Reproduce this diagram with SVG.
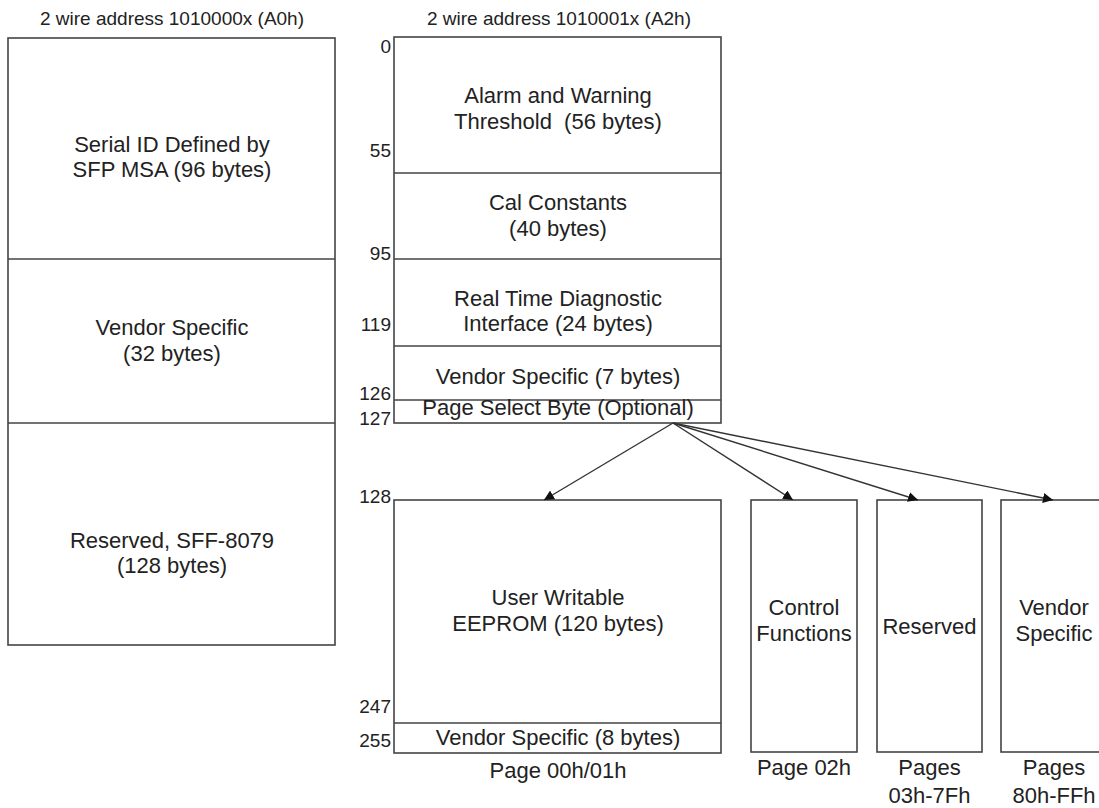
<svg xmlns="http://www.w3.org/2000/svg" width="1099" height="808" viewBox="0 0 1099 808">
<style>
.box{fill:#fff;stroke:#444;stroke-width:1.6}
.ln{stroke:#444;stroke-width:1.6;fill:none}
.t{font-family:"Liberation Sans",Arial,sans-serif;font-size:22px;fill:#222;text-anchor:middle}
.h{font-family:"Liberation Sans",Arial,sans-serif;font-size:19px;fill:#222;text-anchor:middle}
.n{font-family:"Liberation Sans",Arial,sans-serif;font-size:19px;fill:#222;text-anchor:end}
.arr{stroke:#333;stroke-width:1.4;fill:none;marker-end:url(#ah)}
</style>
<defs>
<marker id="ah" viewBox="0 0 10 10" refX="10" refY="5" markerWidth="10" markerHeight="10" markerUnits="userSpaceOnUse" orient="auto">
<path d="M0,0 L10,5 L0,10 z" fill="#111"/>
</marker>
</defs>
<rect width="1099" height="808" fill="#fff"/>

<g id="a0h">
<text class="h" x="172" y="25">2 wire address 1010000x (A0h)</text>
<rect class="box" x="8" y="38" width="327" height="607"/>
<line class="ln" x1="8" y1="259" x2="335" y2="259"/>
<line class="ln" x1="8" y1="423" x2="335" y2="423"/>
<text class="t" x="172" y="152">Serial ID Defined by</text>
<text class="t" x="172" y="177">SFP MSA (96 bytes)</text>
<text class="t" x="172" y="335">Vendor Specific</text>
<text class="t" x="172" y="361">(32 bytes)</text>
<text class="t" x="172" y="548">Reserved, SFF-8079</text>
<text class="t" x="172" y="573">(128 bytes)</text>
</g>

<g id="a2h">
<text class="h" x="559" y="25">2 wire address 1010001x (A2h)</text>
<rect class="box" x="394" y="37" width="327" height="386"/>
<line class="ln" x1="394" y1="173" x2="721" y2="173"/>
<line class="ln" x1="394" y1="259" x2="721" y2="259"/>
<line class="ln" x1="394" y1="346" x2="721" y2="346"/>
<line class="ln" x1="394" y1="400" x2="721" y2="400"/>
<text class="t" x="558" y="103">Alarm and Warning</text>
<text class="t" x="558" y="129" xml:space="preserve">Threshold  (56 bytes)</text>
<text class="t" x="558" y="210">Cal Constants</text>
<text class="t" x="558" y="236">(40 bytes)</text>
<text class="t" x="558" y="306">Real Time Diagnostic</text>
<text class="t" x="558" y="331">Interface (24 bytes)</text>
<text class="t" x="558" y="384">Vendor Specific (7 bytes)</text>
<text class="t" x="558" y="415">Page Select Byte (Optional)</text>
<text class="n" x="391" y="53">0</text>
<text class="n" x="391" y="157">55</text>
<text class="n" x="391" y="260">95</text>
<text class="n" x="391" y="331">119</text>
<text class="n" x="391" y="400">126</text>
<text class="n" x="391" y="425">127</text>
</g>

<g id="page00">
<rect class="box" x="394" y="500" width="327" height="253"/>
<line class="ln" x1="394" y1="723" x2="721" y2="723"/>
<text class="t" x="558" y="605">User Writable</text>
<text class="t" x="558" y="631">EEPROM (120 bytes)</text>
<text class="t" x="558" y="745">Vendor Specific (8 bytes)</text>
<text class="n" x="391" y="503">128</text>
<text class="n" x="391" y="713">247</text>
<text class="n" x="391" y="747">255</text>
<text class="t" x="558" y="778">Page 00h/01h</text>
</g>

<g id="page02">
<rect class="box" x="751" y="500" width="106" height="252"/>
<text class="t" x="804" y="615">Control</text>
<text class="t" x="804" y="641">Functions</text>
<text class="t" x="804" y="775">Page 02h</text>
</g>

<g id="pages03">
<rect class="box" x="877" y="500" width="105" height="252"/>
<text class="t" x="929.5" y="634">Reserved</text>
<text class="t" x="929.5" y="775">Pages</text>
<text class="t" x="929.5" y="803">03h-7Fh</text>
</g>

<g id="pages80">
<rect class="box" x="1001" y="500" width="106" height="252"/>
<text class="t" x="1054" y="615">Vendor</text>
<text class="t" x="1054" y="641">Specific</text>
<text class="t" x="1054" y="775">Pages</text>
<text class="t" x="1054" y="803">80h-FFh</text>
</g>

<g id="connectors">
<line class="arr" x1="673" y1="423" x2="544" y2="500"/>
<line class="arr" x1="673" y1="423" x2="793" y2="500"/>
<line class="arr" x1="673" y1="423" x2="918" y2="500"/>
<line class="arr" x1="673" y1="423" x2="1053" y2="500"/>
</g>
</svg>
